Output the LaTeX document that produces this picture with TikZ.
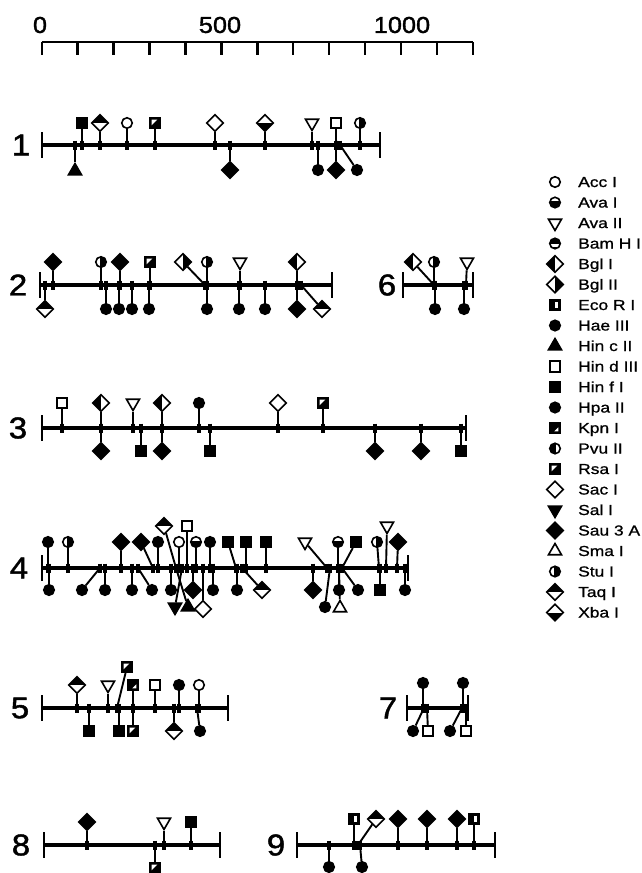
\documentclass[tikz,border=0pt]{standalone}
\usepackage{fontspec}
\setmainfont{Liberation Sans}
\newfontfamily\legfont[FakeStretch=1.2,FakeBold=1]{Liberation Sans}
\newfontfamily\numfont[FakeStretch=1.1,FakeBold=1.5]{Liberation Sans}
\usetikzlibrary{shapes.geometric}

\tikzset{
 every node/.style={inner sep=0pt},
 sym/.style={draw, line width=1.6pt, fill=white, inner sep=0pt},
 circ/.style={sym, circle, minimum size=10.5pt},
 sq/.style={sym, rectangle, minimum size=10.5pt},
 dia/.style={sym, diamond, minimum size=17pt},
 tri/.style={sym, regular polygon, regular polygon sides=3, minimum size=15pt},
 itri/.style={tri, shape border rotate=180},
 acc/.style={circ},
 ava1/.style={circ, path picture={\fill[black] ([yshift=1.5pt]path picture bounding box.west) rectangle (path picture bounding box.south east);}},
 ava2/.style={itri},
 bam/.style={circ, path picture={\fill[black] (path picture bounding box.north west) rectangle ([yshift=-0.5pt]path picture bounding box.east);
   \fill[black] ([yshift=-3pt]path picture bounding box.west) rectangle (path picture bounding box.south east);}},
 bgl1/.style={dia, path picture={\fill[black] (path picture bounding box.south west) rectangle (path picture bounding box.north);}},
 bgl2/.style={dia, path picture={\fill[black] (path picture bounding box.south) rectangle (path picture bounding box.north east);}},
 eco/.style={sq, fill=black, path picture={\fill[white] ([shift={(0pt,2pt)}]path picture bounding box.south) rectangle ([shift={(-2pt,-2pt)}]path picture bounding box.north east);}},
 hae/.style={circ, fill=black},
 hpa/.style={circ, fill=black},
 hinc/.style={tri, fill=black},
 hind/.style={sq},
 hinf/.style={sq, fill=black},
 kpn/.style={sq, fill=black, path picture={\fill[white] ([shift={(-1.8pt,1.8pt)}]path picture bounding box.south east) -- ([shift={(-1.8pt,6pt)}]path picture bounding box.south east) -- ([shift={(-6pt,1.8pt)}]path picture bounding box.south east) -- cycle;}},
 pvu/.style={circ, path picture={\fill[black] (path picture bounding box.south west) rectangle ([xshift=1pt]path picture bounding box.north);}},
 rsa/.style={sq, fill=black, path picture={\fill[white] ([shift={(1.8pt,-1.8pt)}]path picture bounding box.north west) -- ([shift={(7.5pt,-1.8pt)}]path picture bounding box.north west) -- ([shift={(1.8pt,-7.5pt)}]path picture bounding box.north west) -- cycle;}},
 sac/.style={dia},
 sal/.style={itri, fill=black},
 sau/.style={dia, fill=black},
 sma/.style={tri},
 stu/.style={circ, path picture={\fill[black] ([xshift=-1pt]path picture bounding box.south) rectangle (path picture bounding box.north east);}},
 taq/.style={dia, path picture={\fill[black] (path picture bounding box.west) rectangle (path picture bounding box.north east);}},
 xba/.style={dia, path picture={\fill[black] (path picture bounding box.south west) rectangle (path picture bounding box.east);}},
 stem/.style={line width=1.9pt},
 tick/.style={line width=3.4pt},
 mainline/.style={line width=3.1pt},
 endbar/.style={line width=2.6pt},
 rowlab/.style={font=\numfont\fontsize{30}{30}\selectfont},
 scalelab/.style={font=\numfont\fontsize{23}{23}\selectfont},
 legtext/.style={anchor=base west, font=\legfont\fontsize{14.5}{16}\selectfont},
}

\newcommand\site[6]{%
 \coordinate (#1c) at (#2,#3);
 \node[#4] (#1) at (#5,#6) {};
 \draw[stem] (#1) -- (#1c);
 \draw[tick] ([yshift=4.5pt]#1c) -- ([yshift=-4.5pt]#1c);
}
\newcommand\dnaline[4]{%
 \coordinate (#1L) at (#2,#4);
 \coordinate (#1R) at (#3,#4);
 \draw[mainline] (#1L) -- (#1R);
 \draw[endbar] ([yshift=13pt]#1L) -- ([yshift=-13pt]#1L);
 \draw[endbar] ([yshift=13pt]#1R) -- ([yshift=-13pt]#1R);
}
\newcommand\legitem[4]{%
 \node[#2] (k#1) at (555,#4) {};
 \node[legtext] (kt#1) at (578,#4+5) {#3};
}

\begin{document}
\begin{tikzpicture}[x=1pt,y=-1pt]
\useasboundingbox (0,0) rectangle (642,873);

% scale bar
\coordinate (s0) at (41.7,42);
\coordinate (s12) at (473,42);
\draw[line width=2.7pt] (s0) -- (s12);
\foreach \i in {0,...,12} {\draw[line width=2.4pt] ({41.7+\i*35.94},42) -- ({41.7+\i*35.94},55);}
\node[scalelab] (sl0) at (40,25) {0};
\node[scalelab] (sl500) at (220,25) {500};
\node[scalelab] (sl1000) at (402,25) {1000};

% row labels
\node[rowlab] (n1) at (21,145) {1};
\node[rowlab] (n2) at (18,285) {2};
\node[rowlab] (n3) at (18,428) {3};
\node[rowlab] (n4) at (19,568) {4};
\node[rowlab] (n5) at (20,708) {5};
\node[rowlab] (n6) at (387,285) {6};
\node[rowlab] (n7) at (388,708) {7};
\node[rowlab] (n8) at (21,845) {8};
\node[rowlab] (n9) at (276,845) {9};

% row 1
\dnaline{r1}{42}{380}{145}
\site{a1}{75}{145}{hinc}{75}{171}
\site{a2}{82}{145}{hinf}{82}{123}
\site{a3}{100}{145}{taq}{100}{123}
\site{a4}{127}{145}{acc}{127}{123}
\site{a5}{155}{145}{rsa}{155}{123}
\site{a6}{215}{145}{sac}{215}{123}
\site{a7}{230}{145}{sau}{230}{170}
\site{a8}{265}{145}{xba}{265}{123}
\site{a9}{312}{145}{ava2}{312}{123}
\site{a10}{318}{145}{hae}{318}{170}
\site{a11}{336}{145}{hind}{336}{123}
\site{a12}{336}{145}{sau}{336}{170}
\site{a13}{340}{145}{hae}{357}{170}
\site{a14}{360}{145}{stu}{360}{123}

% row 2
\dnaline{r2}{40}{332}{285}
\site{b1}{53}{285}{sau}{53}{262}
\site{b2}{45}{285}{taq}{45}{309}
\site{b3}{101}{285}{stu}{101}{262}
\site{b4}{106}{285}{hae}{106}{309}
\site{b5}{120}{285}{sau}{120}{262}
\site{b6}{119}{285}{hae}{119}{309}
\site{b7}{132}{285}{hae}{132}{309}
\site{b8}{150}{285}{rsa}{150}{262}
\site{b9}{149}{285}{hae}{149}{309}
\site{b10}{205}{285}{bgl2}{183}{262}
\site{b11}{207}{285}{stu}{207}{262}
\site{b12}{207}{285}{hae}{207}{309}
\site{b13}{240}{285}{ava2}{240}{262}
\site{b14}{239}{285}{hae}{239}{309}
\site{b15}{265}{285}{hae}{265}{309}
\site{b16}{297}{285}{bgl1}{297}{262}
\site{b17}{297}{285}{sau}{297}{309}
\site{b18}{301}{285}{taq}{322}{309}

% row 6
\dnaline{r6}{403}{473}{285}
\site{f1}{434}{285}{bgl1}{413}{262}
\site{f2}{434}{285}{stu}{434}{262}
\site{f3}{435}{285}{hae}{435}{309}
\site{f4}{466}{285}{ava2}{467}{262}
\site{f5}{464}{285}{hae}{464}{309}

% row 3
\dnaline{r3}{42}{466}{428}
\site{c1}{62}{428}{hind}{62}{403}
\site{c2}{101}{428}{bgl1}{101}{403}
\site{c3}{101}{428}{sau}{101}{451}
\site{c4}{133}{428}{ava2}{133}{403}
\site{c5}{141}{428}{hinf}{141}{451}
\site{c6}{162}{428}{bgl1}{162}{403}
\site{c7}{162}{428}{sau}{162}{451}
\site{c8}{199}{428}{hae}{199}{403}
\site{c9}{210}{428}{hinf}{210}{451}
\site{c10}{278}{428}{sac}{278}{403}
\site{c11}{323}{428}{rsa}{323}{403}
\site{c12}{375}{428}{sau}{375}{451}
\site{c13}{421}{428}{sau}{421}{451}
\site{c14}{461}{428}{hinf}{461}{451}

% row 4
\dnaline{r4}{42}{408}{568}
\site{d1}{48}{568}{hae}{48}{542}
\site{d2}{68}{568}{stu}{68}{542}
\site{d3}{121}{568}{sau}{121}{542}
\site{d4}{153}{568}{sau}{141}{542}
\site{d5}{158}{568}{hae}{158}{542}
\site{d6}{176}{568}{taq}{164}{526}
\site{d7}{179}{568}{acc}{179}{542}
\site{d8}{187}{568}{hind}{187}{526}
\site{d9}{196}{568}{ava1}{196}{542}
\site{d10}{210}{568}{hae}{210}{542}
\site{d11}{236}{568}{hinf}{228}{542}
\site{d12}{246}{568}{hinf}{246}{542}
\site{d13}{266}{568}{hinf}{266}{542}
\site{d14}{327}{568}{ava2}{305}{542}
\site{d15}{338}{568}{ava1}{338}{542}
\site{d16}{342}{568}{hinf}{356}{542}
\site{d17}{379}{568}{stu}{377}{542}
\site{d18}{386}{568}{ava2}{387}{526}
\site{d19}{397}{568}{sau}{398}{542}
\site{e1}{49}{568}{hae}{49}{590}
\site{e2}{100}{568}{hae}{82}{590}
\site{e3}{105}{568}{hae}{105}{590}
\site{e4}{132}{568}{hae}{132}{590}
\site{e5}{138}{568}{hae}{152}{590}
\site{e6}{171}{568}{hae}{171}{590}
\site{e7}{193}{568}{sau}{193}{590}
\site{e8}{213}{568}{hae}{213}{590}
\site{e9}{237}{568}{hae}{237}{590}
\site{e10}{242}{568}{taq}{262}{590}
\site{e11}{182}{568}{sal}{175}{607}
\site{e12}{176}{568}{hinc}{188}{607}
\site{e13}{203}{568}{sac}{203}{609}
\site{e14}{313}{568}{sau}{313}{590}
\site{e15}{330}{568}{hae}{325}{607}
\site{e16}{339}{568}{sma}{340}{608}
\site{e17}{339}{568}{hae}{339}{590}
\site{e18}{342}{568}{hae}{358}{590}
\site{e19}{380}{568}{hinf}{380}{590}
\site{e20}{405}{568}{hae}{405}{590}

% row 5
\dnaline{r5}{42}{228}{708}
\site{g1}{77}{708}{taq}{77}{685}
\site{g2}{89}{708}{hinf}{89}{731}
\site{g3}{108}{708}{ava2}{108}{685}
\site{g4}{117}{708}{rsa}{127}{667}
\site{g5}{119}{708}{hinf}{119}{731}
\site{g6}{133}{708}{kpn}{133}{685}
\site{g7}{133}{708}{rsa}{133}{731}
\site{g8}{155}{708}{hind}{155}{685}
\site{g9}{174}{708}{taq}{174}{731}
\site{g10}{179}{708}{hae}{179}{685}
\site{g11}{199}{708}{acc}{199}{685}
\site{g12}{197}{708}{hae}{200}{731}

% row 7
\dnaline{r7}{407}{468}{708}
\site{h1}{423}{708}{hae}{423}{683}
\site{h2}{463}{708}{hae}{463}{683}
\site{h3}{424}{708}{hae}{413}{731}
\site{h4}{427}{708}{hind}{428}{731}
\site{h5}{462}{708}{hae}{450}{731}
\site{h6}{466}{708}{hind}{466}{731}

% row 8
\dnaline{r8}{44}{220}{845}
\site{i1}{87}{845}{sau}{87}{822}
\site{i2}{155}{845}{rsa}{155}{868}
\site{i3}{164}{845}{ava2}{164}{822}
\site{i4}{191}{845}{hinf}{191}{822}

% row 9
\dnaline{r9}{297}{495}{845}
\site{j1}{329}{845}{hae}{329}{867}
\site{j2}{354}{845}{eco}{354}{819}
\site{j3}{358}{845}{taq}{376}{819}
\site{j4}{360}{845}{hae}{362}{867}
\site{j5}{398}{845}{sau}{398}{819}
\site{j6}{427}{845}{sau}{427}{819}
\site{j7}{457}{845}{sau}{457}{819}
\site{j8}{474}{845}{eco}{474}{819}
\node[fill, minimum size=7pt] (j0) at (357,845) {};

% legend
\legitem{1}{acc}{Acc I}{182}
\legitem{2}{ava1}{Ava I}{202.5}
\legitem{3}{ava2}{Ava II}{223}
\legitem{4}{bam}{Bam H I}{243.5}
\legitem{5}{bgl1}{Bgl I}{264}
\legitem{6}{bgl2}{Bgl II}{284.5}
\legitem{7}{eco}{Eco R I}{305}
\legitem{8}{hae}{Hae III}{325.5}
\legitem{9}{hinc}{Hin c II}{346}
\legitem{10}{hind}{Hin d III}{366.5}
\legitem{11}{hinf}{Hin f I}{387}
\legitem{12}{hpa}{Hpa II}{407.5}
\legitem{13}{kpn}{Kpn I}{428}
\legitem{14}{pvu}{Pvu II}{448.5}
\legitem{15}{rsa}{Rsa I}{469}
\legitem{16}{sac}{Sac I}{489.5}
\legitem{17}{sal}{Sal I}{510}
\legitem{18}{sau}{Sau 3 A}{530.5}
\legitem{19}{sma}{Sma I}{551}
\legitem{20}{stu}{Stu I}{571.5}
\legitem{21}{taq}{Taq I}{592}
\legitem{22}{xba}{Xba I}{612.5}
\end{tikzpicture}
\end{document}
